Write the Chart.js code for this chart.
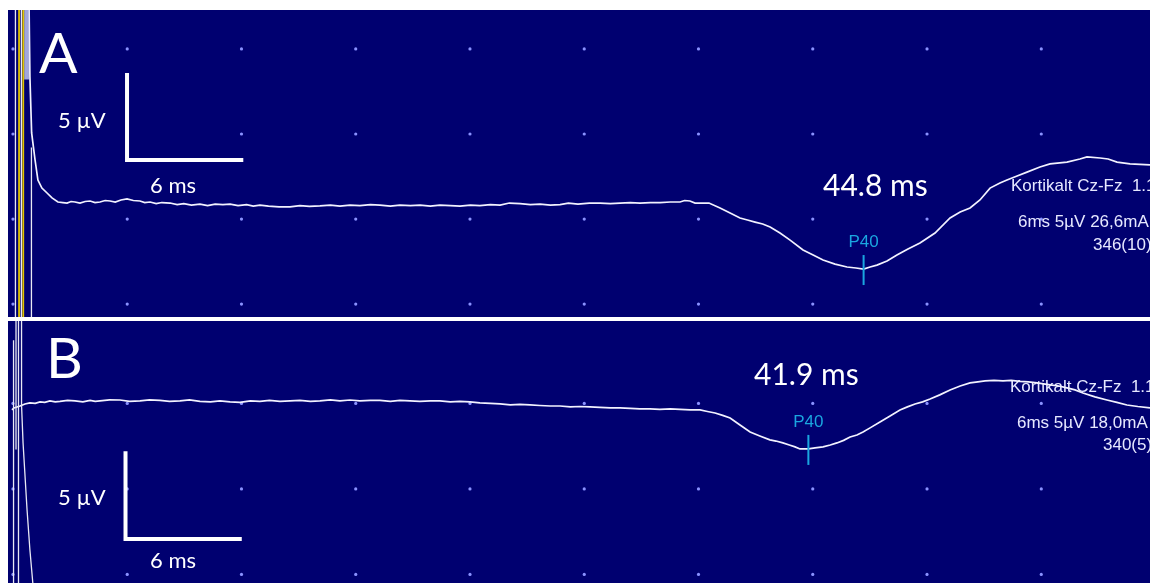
<!DOCTYPE html>
<html>
<head>
<meta charset="utf-8">
<title>Kortikalt SSEP Cz-Fz</title>
<script src="https://cdn.jsdelivr.net/npm/chart.js@4.4.1/dist/chart.umd.min.js"></script>
<style>
  html, body { margin: 0; padding: 0; background: #ffffff; width: 1150px; height: 583px; overflow: hidden; }
  canvas { position: absolute; display: block; background: #000070; }
  #panelA { left: 8px; top: 10px; }
  #panelB { left: 8px; top: 321px; }
</style>
</head>
<body>
<canvas id="panelA" width="1142" height="307"></canvas>
<canvas id="panelB" width="1142" height="262"></canvas>
<script>
// ---- Trace A (ms, µV; positive plotted downward) ----
const timeA = [0.97,1.02,1.11,1.29,1.44,1.65,1.92,2.18,2.49,2.75,2.97,3.18,3.39,3.65,3.92,4.18,4.44,4.70,4.97,5.23,5.50,5.80,6.12,6.45,6.80,7.05,7.33,7.65,7.95,8.38,8.75,9.10,9.50,9.95,10.35,10.75,11.15,11.53,11.95,12.40,12.75,13.10,13.55,14.10,14.68,15.20,15.70,16.25,16.80,17.30,17.83,18.35,18.90,19.40,19.95,20.45,21.00,21.51,22.05,22.55,23.10,23.61,24.15,24.65,25.20,25.71,26.20,26.76,27.30,27.81,28.35,28.86,29.30,29.80,30.40,30.96,31.50,32.01,32.55,33.06,33.60,34.11,34.65,35.16,35.40,35.68,35.95,36.21,36.68,37.26,37.79,38.31,38.70,39.10,39.50,39.89,40.41,40.94,41.62,42.15,42.67,43.30,43.93,44.40,44.80,45.14,45.50,46.03,46.55,47.13,47.76,48.55,49.34,49.87,50.39,50.91,51.44,51.96,52.33,52.86,53.38,54.06,54.59,55.48,56.16,56.53,57.22,57.64,58.11,58.79,59.84];
const ampA  = [-12.9,-8.35,-5.06,-3.47,-2.29,-1.82,-1.53,-1.24,-1.00,-0.97,-0.94,-1.03,-1.00,-0.94,-1.03,-1.06,-0.97,-1.00,-1.09,-1.06,-1.00,-1.12,-1.18,-1.09,-1.06,-0.97,-1.00,-0.91,-0.97,-0.94,-0.85,-0.91,-0.82,-0.88,-0.79,-0.88,-0.85,-0.88,-0.79,-0.85,-0.76,-0.82,-0.76,-0.71,-0.71,-0.79,-0.74,-0.77,-0.82,-0.76,-0.82,-0.79,-0.85,-0.82,-0.76,-0.82,-0.79,-0.82,-0.76,-0.82,-0.79,-0.76,-0.82,-0.79,-0.85,-0.82,-0.94,-0.91,-0.85,-0.88,-0.82,-0.85,-0.94,-0.88,-0.94,-0.94,-0.91,-0.94,-0.97,-0.94,-0.97,-0.97,-1.00,-1.00,-1.09,-1.06,-0.94,-0.94,-0.94,-0.65,-0.35,-0.06,0.06,0.18,0.29,0.47,0.82,1.24,1.82,2.12,2.41,2.65,2.82,2.88,2.94,2.82,2.71,2.47,2.12,1.76,1.41,0.82,-0.06,-0.41,-0.65,-1.12,-1.82,-2.12,-2.29,-2.53,-2.76,-3.06,-3.24,-3.35,-3.53,-3.65,-3.59,-3.53,-3.35,-3.24,-3.18];

// ---- Trace B ----
const timeB = [0.08,0.18,0.50,0.76,1.02,1.30,1.55,1.80,2.07,2.35,2.60,3.00,3.39,3.80,4.18,4.45,4.70,5.20,5.75,6.25,6.80,7.30,7.85,8.35,8.90,9.40,9.95,10.50,11.00,11.53,12.05,12.60,13.10,13.60,14.15,14.68,15.20,15.75,16.25,16.80,17.30,17.83,18.35,18.90,19.40,19.95,20.45,20.98,21.50,22.05,22.55,23.10,23.60,24.13,24.65,25.20,25.71,26.25,26.75,27.28,27.80,28.35,28.86,29.40,29.90,30.43,30.95,31.50,32.01,32.55,33.05,33.58,34.10,34.65,35.16,35.70,36.21,36.60,37.00,37.40,37.79,38.31,38.84,39.35,39.88,40.20,40.56,40.90,41.20,41.46,41.90,42.25,42.67,43.05,43.40,43.75,44.09,44.45,44.77,45.14,45.66,46.19,46.71,47.10,47.50,47.90,48.29,48.80,49.34,49.87,50.39,50.80,51.18,51.65,52.12,52.55,53.01,53.45,53.91,54.59,55.05,55.48,55.90,56.32,56.95,57.58,58.10,58.63,59.20,59.84];
const ampB  = [-4.62,-4.74,-4.85,-4.97,-5.03,-5.00,-5.09,-5.06,-5.15,-5.09,-5.12,-5.18,-5.15,-5.09,-5.18,-5.12,-5.15,-5.21,-5.20,-5.12,-5.15,-5.21,-5.18,-5.12,-5.15,-5.21,-5.12,-5.09,-5.15,-5.09,-5.06,-5.15,-5.12,-5.18,-5.12,-5.15,-5.18,-5.12,-5.15,-5.21,-5.15,-5.20,-5.15,-5.18,-5.18,-5.12,-5.18,-5.15,-5.12,-5.15,-5.15,-5.09,-5.12,-5.09,-5.03,-5.00,-4.97,-4.91,-4.94,-4.91,-4.88,-4.85,-4.85,-4.80,-4.82,-4.80,-4.77,-4.74,-4.74,-4.71,-4.68,-4.68,-4.65,-4.68,-4.65,-4.62,-4.62,-4.53,-4.44,-4.30,-4.15,-3.74,-3.33,-3.10,-2.87,-2.80,-2.69,-2.57,-2.46,-2.34,-2.34,-2.40,-2.46,-2.57,-2.69,-2.84,-3.04,-3.15,-3.33,-3.57,-3.92,-4.27,-4.62,-4.80,-4.97,-5.09,-5.26,-5.50,-5.79,-6.02,-6.20,-6.26,-6.32,-6.35,-6.32,-6.35,-6.29,-6.26,-6.20,-6.08,-6.02,-5.91,-5.79,-5.61,-5.38,-5.20,-5.06,-4.91,-4.82,-4.74];

// ---- Stimulus artefact sweeps at the start of each recording ----
const artefactTimeA  = [0.26, 0.45, 0.57, 0.67, 1.10];
const artefactFromA  = [-20, -20, -20, -20, -4.2];
const artefactToA    = [20, 20, 20, 20, 20];
const artefactColorA = ['#e8e8f4', '#e0c400', '#e8e8f4', '#e0c400', '#e8e8f4'];
const artefactTimeB  = [0.16, 0.29, 0.42, 0.58];
const artefactFromB  = [-8.7, -20, -20, -20];
const artefactToB    = [20, -2.3, 20, -4.9];
const decayTimeB = [0.58, 0.66, 0.87, 1.02, 1.18];
const decayAmpB  = [-4.9, -2.69, 1.23, 3.57, 5.6];

// ---- P40 peaks (latency ms, amplitude µV) ----
const p40LatencyA = 44.8, p40AmpA = 2.94;
const p40LatencyB = 41.9, p40AmpB = -2.34;

// ---- Acquisition info lines ----
const infoA = ['Kortikalt Cz-Fz  1.1', '6ms 5µV 26,6mA', '346(10)'];
const infoB = ['Kortikalt Cz-Fz  1.1', '6ms 5µV 18,0mA', '340(5)'];

// Screen divisions: 6 ms horizontally, 5 µV vertically
const MS_PER_DIV = 6, UV_PER_DIV = 5, GRID_ORIGIN_MS = 0.13;
const gridTimes = Array.from({ length: 11 }, (_, k) => GRID_ORIGIN_MS + k * MS_PER_DIV);

const pts = (ts, vs) => ts.map((t, i) => ({ x: t, y: vs[i] }));

function artefactSets(times, from, to, colors) {
  return times.map((t, i) => ({
    data: [{ x: t, y: from[i] }, { x: t, y: to[i] }],
    borderColor: colors ? colors[i] : '#e8e8f4',
    borderWidth: colors && colors[i] !== '#e8e8f4' ? 1.8 : 1.3
  }));
}

const eegOverlay = {
  id: 'eegOverlay',
  beforeDatasetsDraw(chart, args, o) {
    const { ctx, scales: { x, y } } = chart;
    ctx.save();
    // dotted division grid
    ctx.fillStyle = '#8a92ff';
    for (const t of gridTimes) {
      for (const v of o.gridAmps) {
        ctx.beginPath();
        ctx.arc(x.getPixelForValue(t), y.getPixelForValue(v), 1.6, 0, Math.PI * 2);
        ctx.fill();
      }
    }
    // acquisition info
    ctx.fillStyle = '#e6e8ff';
    ctx.font = '17px "Liberation Sans", Arial, sans-serif';
    ctx.textBaseline = 'alphabetic';
    ctx.textAlign = 'left';
    o.info.forEach((s, i) => ctx.fillText(s, o.infoPos[i][0], o.infoPos[i][1]));
    ctx.restore();
  },
  afterDatasetsDraw(chart, args, o) {
    const { ctx, scales: { x, y } } = chart;
    ctx.save();
    // calibration bar: 6 ms x 5 µV
    const x0 = x.getPixelForValue(o.barT), y0 = y.getPixelForValue(o.barV);
    const x1 = x.getPixelForValue(o.barT + MS_PER_DIV), y1 = y.getPixelForValue(o.barV - UV_PER_DIV);
    ctx.strokeStyle = '#ffffff';
    ctx.lineWidth = 4;
    ctx.lineCap = 'square';
    ctx.beginPath();
    ctx.moveTo(x0, y1); ctx.lineTo(x0, y0); ctx.lineTo(x1, y0);
    ctx.stroke();

    ctx.fillStyle = '#ffffff';
    ctx.textBaseline = 'alphabetic';
    ctx.textAlign = 'left';
    ctx.font = '57px Lato, "Open Sans", sans-serif';
    ctx.fillText(o.letter, o.letterPos[0], o.letterPos[1]);
    ctx.font = '22px Lato, "Open Sans", sans-serif';
    ctx.fillText('5 µV', o.uvPos[0], o.uvPos[1]);
    ctx.fillText('6 ms', o.msPos[0], o.msPos[1]);
    ctx.font = '30px Lato, "Open Sans", sans-serif';
    ctx.fillText(o.latency.toFixed(1) + ' ms', o.latPos[0], o.latPos[1]);

    // P40 cursor
    const px = x.getPixelForValue(o.latency), py = y.getPixelForValue(o.peakAmp);
    ctx.strokeStyle = '#1aa6e0';
    ctx.lineWidth = 2;
    ctx.lineCap = 'butt';
    ctx.beginPath();
    ctx.moveTo(px, py - 14); ctx.lineTo(px, py + 16);
    ctx.stroke();
    ctx.fillStyle = '#1aa6e0';
    ctx.font = '17px "Liberation Sans", Arial, sans-serif';
    ctx.textAlign = 'center';
    ctx.fillText('P40', px, py - 22);
    ctx.restore();
  }
};

function makePanel(id, datasets, yMin, yMax, overlay) {
  return new Chart(document.getElementById(id), {
    type: 'line',
    data: { datasets },
    options: {
      responsive: false,
      animation: false,
      events: [],
      layout: { padding: 0 },
      elements: { point: { radius: 0 }, line: { tension: 0 } },
      scales: {
        x: { type: 'linear', min: -0.131, max: 59.84, display: false },
        y: { type: 'linear', min: yMin, max: yMax, reverse: true, display: false }
      },
      plugins: { legend: { display: false }, tooltip: { enabled: false }, eegOverlay: overlay }
    },
    plugins: [eegOverlay]
  });
}

makePanel('panelA', [
  ...artefactSets(artefactTimeA, artefactFromA, artefactToA, artefactColorA),
  { data: [{ x: 0.85, y: -20 }, { x: 0.85, y: -8.2 }], borderColor: 'rgba(190,196,236,0.85)', borderWidth: 5 },
  { data: pts(timeA, ampA), borderColor: '#f2f2ff', borderWidth: 1.7 }
], -12.29, 5.76, {
  gridAmps: [-10, -5, 0, 5],
  info: infoA, infoPos: [[1003, 181], [1010, 217], [1085, 240]],
  barT: 6.12, barV: -3.47,
  letter: 'A', letterPos: [31, 63], uvPos: [50, 118], msPos: [142, 183], latPos: [815, 186],
  latency: p40LatencyA, peakAmp: p40AmpA
});

makePanel('panelB', [
  ...artefactSets(artefactTimeB, artefactFromB, artefactToB, null),
  { data: pts(decayTimeB, decayAmpB), borderColor: '#e8e8f4', borderWidth: 1.3 },
  { data: pts(timeB, ampB), borderColor: '#f2f2ff', borderWidth: 1.7 }
], -9.82, 5.5, {
  gridAmps: [-10, -5, 0, 5],
  info: infoB, infoPos: [[1002, 71], [1009, 107], [1095, 129]],
  barT: 6.04, barV: 2.92,
  letter: 'B', letterPos: [38, 57], uvPos: [50, 184], msPos: [142, 247], latPos: [746, 64],
  latency: p40LatencyB, peakAmp: p40AmpB
});
</script>
</body>
</html>
